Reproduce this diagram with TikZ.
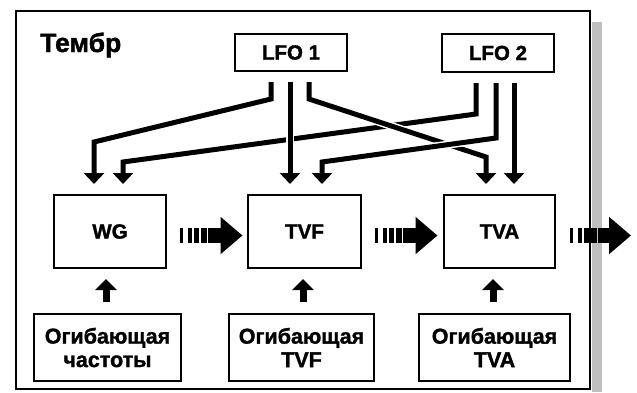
\documentclass[tikz,border=0pt]{standalone}
\usepackage{fontspec}
\setmainfont{Liberation Sans}
\newfontfamily\hvy{Liberation Sans Bold}[FakeBold=1.5]
\usetikzlibrary{arrows.meta,calc}
\begin{document}
\begin{tikzpicture}[x=1pt,y=-1pt,
  blk/.style={draw, line width=2pt, inner sep=0pt, align=center,
    font=\hvy\fontsize{20.5}{23.5}\selectfont},
  envblk/.style={blk, font=\hvy\fontsize{21.5}{23.5}\selectfont},
  lfoln/.style={line width=5pt, line join=miter,
    -{Triangle[width=20pt,length=11pt]},
    preaction={draw=white, line width=8pt, -}},
  uparr/.style={line width=7pt, -{Triangle[width=21pt,length=11pt]}},
  flowln/.style={line width=14.6pt,
    dash pattern=on 2.5pt off 5pt on 4pt off 2.5pt on 5pt off 2pt on 5.5pt off 1.5pt on 40pt,
    -{Triangle[width=36pt,length=22pt]}},
]
\useasboundingbox (0,0) rectangle (637,392);
% shadow and frame
\fill[gray!50] (592,22) rectangle (602,392);
\draw[line width=2.2pt, fill=white] (16,11) rectangle (590,389);
\node[anchor=base west, inner sep=0pt, font=\hvy\fontsize{26.5}{30}\selectfont] (title) at (40,52) {Тембр};
% nodes
\node[blk, minimum width=112pt, minimum height=37pt] (lfo1) at (291,52.5) {LFO 1};
\node[blk, minimum width=112pt, minimum height=38pt] (lfo2) at (498,53) {LFO 2};
\node[blk, minimum width=112pt, minimum height=73pt] (wg) at (110,231.5) {WG};
\node[blk, minimum width=113pt, minimum height=73pt] (tvf) at (304.5,231.5) {TVF};
\node[blk, minimum width=111pt, minimum height=73pt] (tva) at (499.5,231.5) {TVA};
\node[envblk, minimum width=147pt, minimum height=67pt] (env1) at (107.5,347.5) {Огибающая\\частоты};
\node[envblk, minimum width=145pt, minimum height=67pt] (env2) at (301.5,347.5) {Огибающая\\TVF};
\node[envblk, minimum width=151pt, minimum height=67pt] (env3) at (494.5,347.5) {Огибающая\\TVA};
% LFO connectors
\draw[lfoln] ($(lfo1.south)+(-20,10)$) -- ++(0,17) -- ($(wg.north)+(-16,-52)$) -- ($(wg.north)+(-16,-10)$);
\draw[lfoln] ($(lfo2.south)+(-22,10)$) -- ++(0,31) -- ($(wg.north)+(13,-32)$) -- ($(wg.north)+(13,-10)$);
\draw[lfoln] ($(lfo1.south)+(18,10)$) -- ++(0,17) -- ($(tva.north)+(-13.5,-37)$) -- ($(tva.north)+(-13.5,-10)$);
\draw[lfoln] ($(lfo2.south)+(-2,10)$) -- ++(0,55) -- ($(tvf.north)+(17.5,-32)$) -- ($(tvf.north)+(17.5,-10)$);
\draw[lfoln] ($(lfo1.south)+(-1,10)$) -- ($(tvf.north)+(-14.5,-10)$);
\draw[lfoln] ($(lfo2.south)+(16,10)$) -- ($(tva.north)+(14.5,-10)$);
% envelope arrows
\draw[uparr] ($(env1.north)+(-1.5,-11)$) -- ($(env1.north |- wg.south)+(-1.5,10)$);
\draw[uparr] ($(env2.north)+(1.5,-11)$) -- ($(env2.north |- tvf.south)+(1.5,10)$);
\draw[uparr] ($(env3.north)+(-1.5,-11)$) -- ($(env3.north |- tva.south)+(-1.5,10)$);
% flow arrows
\coordinate (out) at ($(tva.east)+(75,4)$);
\draw[flowln] ($(wg.east)+(13,4)$) -- ($(tvf.west)+(-4.5,4)$);
\draw[flowln] ($(tvf.east)+(13,4)$) -- ($(tva.west)+(-5.5,4)$);
\draw[flowln] ($(tva.east)+(14,4)$) -- (out);
\end{tikzpicture}
\end{document}
